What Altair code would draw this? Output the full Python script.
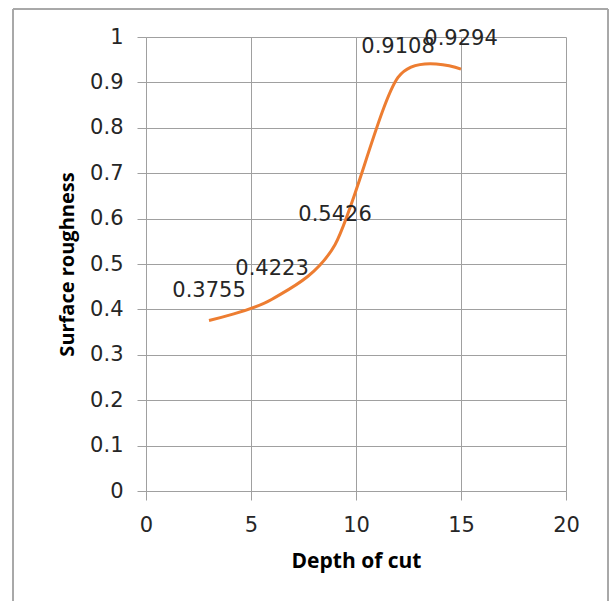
import altair as alt
import pandas as pd

# Depth of cut vs. measured surface roughness
depth = [3, 6, 9, 12, 15]
roughness = [0.3755, 0.4223, 0.5426, 0.9108, 0.9294]

df = pd.DataFrame({"depth": depth, "roughness": roughness})

GRID = "#a0a0a0"
TICK_FONT = "DejaVu Sans"
TITLE_FONT = "Open Sans"

x_enc = alt.X(
    "depth:Q",
    title="Depth of cut",
    scale=alt.Scale(domain=[0, 20], nice=False),
    axis=alt.Axis(values=[0, 5, 10, 15, 20], format="d"),
)
y_enc = alt.Y(
    "roughness:Q",
    title="Surface roughness",
    scale=alt.Scale(domain=[0, 1], nice=False),
    axis=alt.Axis(values=[i / 10 for i in range(11)], format=".1~f"),
)

line = alt.Chart(df).mark_line(
    color="#ED7D31", strokeWidth=3, interpolate="cardinal", tension=0.15
).encode(x=x_enc, y=y_enc)

labels = alt.Chart(df).mark_text(
    font=TICK_FONT, fontSize=21, color="#262626", align="center",
    baseline="middle", dy=-30,
).encode(
    x="depth:Q",
    y="roughness:Q",
    text=alt.Text("roughness:Q", format=".4f"),
)

# outer chart-area frame
frame = alt.Chart(df).mark_rect(
    fill=None, stroke="#a6a6a6", strokeWidth=1
).encode(
    x=alt.value(-133), x2=alt.value(462),
    y=alt.value(-28), y2=alt.value(580),
)

chart = alt.layer(frame, line, labels).properties(
    width=420,
    height=454,
    padding={"left": 146, "top": 37, "right": 43, "bottom": 110},
    autosize=alt.AutoSizeParams(type="none"),
    background="white",
).configure_view(
    stroke=None
).configure_axis(
    grid=True,
    gridColor=GRID,
    gridWidth=1,
    domainColor=GRID,
    tickColor=GRID,
    tickSize=9,
    labelFlush=False,
    labelFont=TICK_FONT,
    labelFontSize=21,
    labelColor="#262626",
    labelPadding=14,
    titleFont=TITLE_FONT,
    titleFontWeight="bold",
    titleColor="#000000",
).configure_axisX(
    titleFontSize=21,
    titlePadding=15,
).configure_axisY(
    titleFontSize=20,
    titlePadding=12,
)

chart.save("out.html", embed_options={"renderer": "svg", "actions": False})
